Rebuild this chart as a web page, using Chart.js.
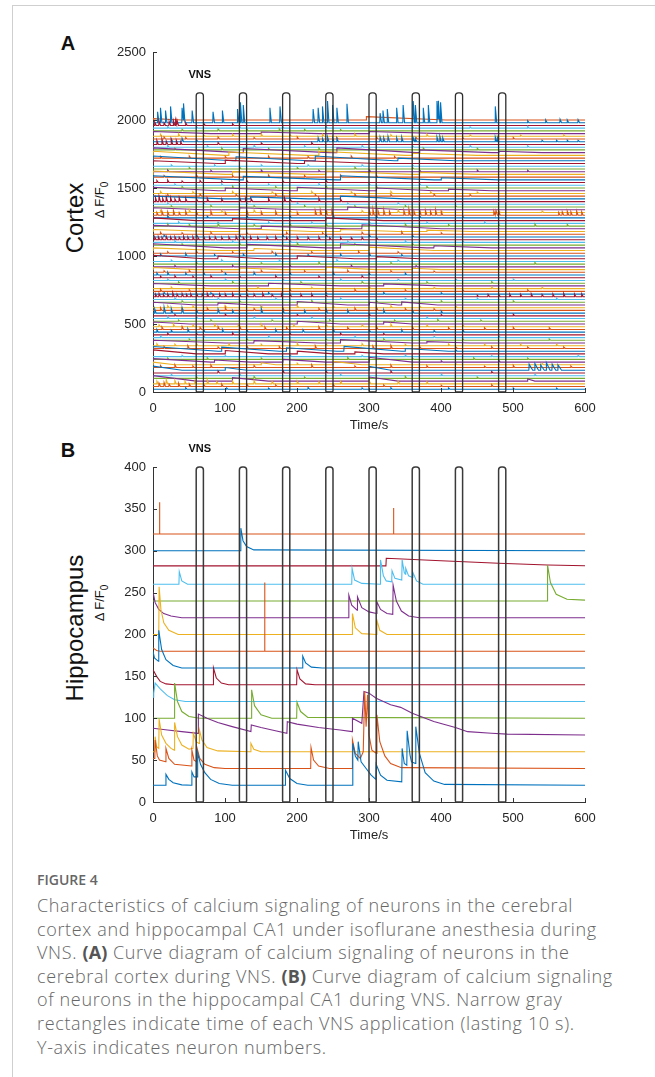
<!DOCTYPE html>
<html>
<head>
<meta charset="utf-8">
<script src="https://cdn.jsdelivr.net/npm/chart.js@4.4.1/dist/chart.umd.min.js"></script>
<style>
  body { margin: 0; background: #fff; width: 655px; height: 1077px; position: relative; overflow: hidden; font-family: "Liberation Sans", Arial, sans-serif; }
  .frame { position: absolute; left: 12px; top: 5px; right: 0; bottom: 0; border-left: 1px solid #cfcfcf; border-top: 1px solid #cfcfcf; }
  .box { position: absolute; left: 0; width: 655px; }
  .panel { position: absolute; font: bold 20px "Liberation Sans", Arial, sans-serif; color: #111; transform: translate(-50%, -50%); }
  .rot { position: absolute; transform: translate(-50%, -50%) rotate(-90deg); white-space: nowrap; color: #111; }
  .big { font-size: 24px; }
  .small { font-size: 13px; }
  .small sub { font-size: 10px; }
  .cap { position: absolute; left: 37px; top: 870px; color: #666; font-family: "Open Sans", sans-serif; }
  .figno { font-size: 14px; font-weight: 600; color: #666; margin-bottom: 5px; }
  .cap p { margin: 0; font-size: 18px; font-weight: 300; letter-spacing: 0.65px; line-height: 23.6px; white-space: nowrap; }
  .cap b { font-weight: 700; color: #555; letter-spacing: 0.2px; }
</style>
</head>
<body>
<div class="frame"></div>

<div class="panel" style="left:68px;top:43px">A</div>
<div class="panel" style="left:68px;top:450px">B</div>
<div class="rot big" style="left:75px;top:218px">Cortex</div>
<div class="rot small" style="left:101px;top:200px">&Delta; F/F<sub>0</sub></div>
<div class="rot big" style="left:75px;top:628px">Hippocampus</div>
<div class="rot small" style="left:101px;top:603px">&Delta; F/F<sub>0</sub></div>

<div class="box" style="top:0;height:440px"><canvas id="cortex"></canvas></div>
<div class="box" style="top:440px;height:420px"><canvas id="hippo"></canvas></div>

<div class="cap">
  <div class="figno">FIGURE 4</div>
  <p>Characteristics of calcium signaling of neurons in the cerebral<br>
  cortex and hippocampal CA1 under isoflurane anesthesia during<br>
  VNS. <b>(A)</b> Curve diagram of calcium signaling of neurons in the<br>
  cerebral cortex during VNS. <b>(B)</b> Curve diagram of calcium signaling<br>
  of neurons in the hippocampal CA1 during VNS. Narrow gray<br>
  rectangles indicate time of each VNS application (lasting 10 s).<br>
  Y-axis indicates neuron numbers.</p>
</div>

<script>
// MATLAB default line colour order
const PALETTE = ['#0072BD', '#D95319', '#EDB120', '#7E2F8E', '#77AC30', '#4DBEEE', '#A2142F'];

// VNS stimulation windows (s)
const vnsStarts = [60, 120, 180, 240, 300, 360, 420, 480];
const vnsDuration = 10;
const vnsLabel = 'VNS';

const timeTicks = [0, 100, 200, 300, 400, 500, 600];
const cortexTicks = [0, 500, 1000, 1500, 2000, 2500];
const hippoTicks = [0, 50, 100, 150, 200, 250, 300, 350, 400];

// Cortex: baseline of each neuron trace (bottom to top)
const cortexBaselines = [
  20, 40, 60, 80, 100, 120, 140, 160, 180, 200,
  220, 240, 260, 280, 300, 320, 340, 360, 380, 400,
  420, 440, 460, 480, 500, 520, 540, 560, 580, 600,
  620, 640, 660, 680, 700, 720, 740, 760, 780, 800,
  820, 840, 860, 880, 900, 920, 940, 960, 980, 1000,
  1020, 1040, 1060, 1080, 1100, 1120, 1140, 1160, 1180, 1200,
  1220, 1240, 1260, 1280, 1300, 1320, 1340, 1360, 1380, 1400,
  1420, 1440, 1460, 1480, 1500, 1520, 1540, 1560, 1580, 1600,
  1620, 1640, 1660, 1680, 1700, 1720, 1740, 1760, 1780, 1800,
  1820, 1840, 1860, 1880, 1900, 1920, 1940, 1960, 1980, 2000
];

// Cortex events per trace, "time:height[:decay]"
const cortexLow = [
  "45:12 102:10 160:8 215:14 290:10 330:12 410:9 500:10 560:8",
  "8:25 15:30 22:18 35:26 50:20 70:15 95:18 130:20 170:12 250:15 320:12 400:10 470:14",
  "5:20 18:30 30:25 44:18 58:22 75:30 88:16 110:20 140:25 165:18 200:20 230:15 260:18 300:22 340:20 380:15",
  "0:40:60 110:25:50 300:30:40 520:15:10",
  "60:12 140:15 210:10 350:14 450:10",
  "25:10 120:12 260:10 400:12 530:10",
  "90:15 180:20 240:12 330:15 470:10",
  "0:30:40 100:20:30 300:28:30 522:45:5 530:50:5 538:40:5 546:55:5 554:45:5 562:40:5",
  "10:15 30:20 55:12 80:18 140:15 220:20 280:12 330:18 380:14 460:10 500:16 580:12",
  "0:20:30 150:15:20 200:12 250:25:40 420:10 540:12",
  "0:25:80 85:15:50 180:20:60 300:35:60 400:10 480:12",
  "20:10 75:12 150:10 270:15 360:10 445:12 520:10",
  "40:10 100:8 190:12 290:10 350:12 470:8 590:10",
  "0:30:60 100:25:60 200:20:50 280:15:40",
  "0:35:90 95:30:80 185:25:70 265:35:80 350:20:60 420:10",
  "15:15 48:20 90:12 130:18 175:14 225:20 305:18 330:22 370:15 420:12 470:14 520:10 570:12",
  "5:15 30:12 60:18 105:14 150:12 200:18 240:14 290:16 350:12 410:14 460:10 510:12 560:10",
  "0:20:100 140:18:90 260:25:100 380:10:60",
  "50:10 130:12 240:10 320:12 430:10 550:10",
  "10:12 70:10 160:12 280:10 390:10 480:12",
  "20:12 60:10 110:15 190:10 260:12 320:10",
  "5:20 25:15 48:25 70:18 96:22 130:15 170:20 208:18 250:22 300:15 345:18 390:12 430:16",
  "12:18 40:22 65:15 90:20 120:25 155:18 185:15 230:20 270:15 310:22 360:18 410:14 460:12 500:16 550:12",
  "8:15 28:20 55:12 85:18 118:15 150:20 195:14 240:18 290:15 330:20 380:12 430:14",
  "0:15:50 200:20:60 320:15:40",
  "35:10 80:12 165:10 245:12 335:10 395:15 455:10",
  "20:15 60:12 140:14 220:12 300:10 380:12",
  "30:10 100:12 200:10 300:12 400:10 500:12",
  "2:30 15:45 25:35 40:40 60:25 90:30 110:20 150:35 180:25 210:20 240:30 270:22 320:25 360:20 400:15",
  "10:20 40:15 75:18 100:22 140:15 180:20 230:14 280:18 310:25 350:15 390:12",
  "20:15 55:12 100:15 150:12 200:18 250:12 330:15 370:12 420:12",
  "0:20:60 90:15:50 200:25:70 300:20:40 345:22:50",
  "40:12 120:10 220:15 310:10 400:12 500:10"
];
const cortexMid = [
  "30:10 90:12 170:10 260:12 350:10 450:12 560:10",
  "3:20 8:25 14:18 20:22 27:30 33:20 40:25 46:18 52:22 60:28 68:20 75:25 83:18 92:22 100:20 110:25 120:18 130:22 140:20 152:25 165:18 178:22 190:20 205:18 220:20 240:15 450:12 465:18 480:15 495:20 510:18 525:22 540:18 555:20 570:25 585:20 595:22",
  "15:12 80:10 160:12 240:10 320:12 400:10",
  "10:15 50:12 130:15 190:12 280:15 350:12 430:10 520:12",
  "25:12 70:10 145:12 220:10 300:15 390:10 470:12 540:10",
  "0:18:80 160:20:100 320:15:80",
  "35:10 110:12 205:10 290:12 380:10 470:12",
  "20:10 100:12 180:10 260:12 340:10 420:12 500:10",
  "10:12 30:15 55:12 80:15 120:12 170:15 230:12 290:15",
  "5:15 20:20 45:15 70:18 100:15 140:20 190:15 250:18 300:12 350:15",
  "15:12 50:15 95:12 150:15 210:12 270:15 330:12 390:10",
  "0:15:60 120:12:60 240:18:70 360:10:40",
  "30:10 110:12 190:10 275:12 365:10",
  "60:12 150:10 230:15 330:12 430:10 530:12",
  "25:10 95:12 175:10 255:12 340:10",
  "0:25:70 90:20:60 200:22:80 310:15:60",
  "10:15 45:18 85:12 125:15 170:18 215:12 260:15 300:20 345:12",
  "20:12 60:15 110:12 165:15 220:12 285:15 340:12",
  "0:20:90 140:15:80 300:25:90",
  "0:30:100 130:25:110 260:30:120 390:15:80",
  "40:10 120:12 200:15 280:10 360:12",
  "30:12 110:10 190:12 270:10 350:12 430:10",
  "2:20 7:22 12:18 18:25 24:20 30:22 36:18 42:25 48:20 55:22 62:18 70:25 78:20 86:22 95:18 105:20 115:25 125:18 135:22 145:18 158:20 170:22 185:18 200:20 215:18 230:20 245:15 260:18 275:15 290:18 310:15",
  "15:15 60:12 120:15 180:12 240:15 300:12 360:10",
  "10:15 40:12 80:15 130:12 185:15 235:12 290:15 345:18 400:12",
  "0:15:80 120:20:100 260:15:80 380:10:60",
  "0:25:120 150:20:120 290:30:110",
  "20:15 50:12 90:18 140:12 190:15 240:18 300:12 350:15 410:12 480:10 530:15 575:12",
  "35:12 90:10 160:12 220:10 300:12 380:10 460:12",
  "0:20:60 110:15:60 240:20:80",
  "20:15 75:12 130:18 190:12 250:15 310:12 370:15 430:10",
  "5:20 12:30 20:25 28:35 36:20 45:30 60:25 80:30 100:20 130:35 150:25 170:30 200:20 225:35 232:40 240:30 248:35 300:40 305:45 312:35 320:40 328:30 348:35 355:45 362:30 370:40 378:35 385:30 392:40 400:25 473:30 476:35 480:25 563:20 568:25 575:30 580:25 588:30 595:25",
  "10:15 50:20 95:15 140:18 190:15 240:20 290:15 340:18 400:12 480:15 540:12"
];
const cortexHigh = [
  "0:15:70 120:15:80 270:20:80",
  "25:10 80:12 140:10 210:12 280:10 350:12 420:10",
  "20:10 70:12 130:10 200:12 270:10 340:12",
  "3:30 8:40 13:25 18:35 24:30 30:20 36:30 45:25 60:20 75:25 95:20 120:30 128:25 136:20 160:25 182:30 190:20 230:25 260:20",
  "0:20:100 135:15:80 260:20:90",
  "20:12 65:15 115:12 170:15 225:12 280:15 330:12 390:15 440:12",
  "10:15 55:12 110:15 165:12 220:15 275:12 330:15 385:12 450:10",
  "0:25:90 100:20:90 200:25:100 310:20:80 410:12:60",
  "40:12 110:15 170:12 240:15 310:12 380:10",
  "30:10 95:12 160:10 230:12 300:10 370:12",
  "5:15 20:18 40:12 65:15 95:12 130:15 180:12 240:15",
  "0:30:120 125:25:130 260:30:130 400:15:80",
  "15:12 60:15 110:12 160:15 210:12 260:15 310:12",
  "0:25:100 110:20:110 240:25:120 370:15:80",
  "20:12 80:10 150:12 230:10 300:12 370:10 450:12 520:10",
  "50:10 120:12 200:10 280:12 360:10",
  "25:10 85:12 150:10 215:12 290:10 360:12",
  "0:20:90 100:25:100 210:20:100",
  "0:35:110 115:30:100 225:35:110 340:20:80",
  "10:12 50:15 100:12 160:15 215:12 275:15 335:12",
  "0:30:100 105:25:110 230:30:120 360:15:90",
  "0:35:120 125:30:120 255:35:110 370:20:100 480:10:60",
  "30:12 95:15 160:12 230:15 300:12 375:15 450:12",
  "20:12 75:10 140:12 210:10 290:12 360:10 440:12 520:10",
  "5:30 12:40 18:25 25:35 32:30 38:20 90:15 150:12 220:15",
  "25:20 40:25 60:15 229:30 235:25 242:35 249:30 255:25 315:35 320:30 326:40 338:30 345:35 361:30 364:25 394:35 398:40 402:30 475:35 478:30 540:12 560:10 575:12 590:10",
  "15:15 45:12 90:15 140:12 200:15 255:12 310:15 365:12 430:10 500:12",
  "10:15 35:18 70:12 110:15 150:18 190:12 235:15 280:18 330:12 380:15 440:12 510:10 570:12",
  "0:15:80 150:12:80 300:15:100",
  "40:12 90:15 130:12 175:15 210:12 260:10",
  "20:12 60:10 120:12 180:10 240:12 300:10 360:12 440:10 520:12",
  "2:25 8:30 15:20 22:30 28:35 31:40 33:30 45:20 70:15 110:12",
  "6:80 10:110 17:90 24:120 40:110 42:120 54:90 83:80 96:90 117:100 121:150 125:130 162:110 176:120 222:100 229:110 235:120 242:160 249:130 255:110 269:140 315:70 319:90 325:100 338:110 347:130 361:160 364:130 375:110 382:130 394:160 396:130 399:150 475:120 520:15 545:20 565:25 575:20 590:22",
  "0:10:40 296:25:110"
];

// Hippocampus: each neuron trace as [time, dF/F0 + offset] points
const hippoTraces = [
  [[0,20],[17.5,20],[18,33],[22,27],[28,23],[40,20.5],[53.5,20],[54,36],[57,30],[61.5,30],[62,59],[66,45],[72,35],[80,27],[92,22],[110,20],[183.5,20],[184,38],[190,28],[200,22],[215,20],[277,20],[277.5,70],[281,55],[284.5,50],[285,72],[289,48],[296,40],[303,32],[309.5,27],[310,45],[316,32],[325,26],[345.5,24],[346,64],[349,46],[352.5,44],[353,85],[357,56],[359,48],[364.5,46],[365,90],[370,58],[378,35],[390,25],[405,21],[600,20]],
  [[0,52],[2.5,52],[3,74],[6,55],[9,50],[17.5,48],[18,64],[22,52],[30,45],[53.5,43],[54,62],[57,50],[60.5,48],[61,65],[65,52],[72,45],[85,41],[100,40],[219,40],[219.5,65],[223,50],[230,43],[245,40],[276.5,40],[277,74],[281,58],[288,52],[292,60],[294,132],[296,90],[298,128],[300,80],[304,62],[310.5,58],[311,104],[315,72],[322,55],[330,46],[345,41],[600,40]],
  [[0,60],[2.5,60],[3,78],[5,66],[8,64],[8.5,99],[12,80],[18,70],[25,64],[29.5,62],[30,95],[34,78],[40,68],[50,63],[55.5,64],[56,82],[60,72],[64,70],[64.5,86],[68,74],[75,65],[90,61],[135.5,60],[136,70],[140,63],[150,60],[600,60]],
  [[0,88],[20,86],[40,84],[62.5,82],[63,105],[75,100],[90,95],[110,90],[136,84],[136.5,92],[150,89],[170,85],[186,82],[186.5,96],[200,93],[230,89],[260,86],[276.5,84],[277,100],[290,94],[293,132],[300,130],[310,124],[330,116],[344,113],[360,106],[390,96],[420,89],[437,84],[470,82],[492,81],[600,80]],
  [[0,100],[29.5,100],[30,142],[34,120],[40,108],[50,102],[65,100],[136.5,100],[137,134],[141,115],[150,104],[165,100],[199.5,100],[200,119],[205,108],[215,101],[600,100]],
  [[0,125],[1,130],[3,142],[10,135],[20,127],[30,122],[45,120],[600,120]],
  [[0,158],[5,150],[10,144],[18,141],[30,140],[83.5,140],[84,160],[88,148],[95,142],[105,140],[199.5,140],[200,158],[204,147],[212,141],[225,140],[600,140]],
  [[0,180],[2,172],[7.5,168],[8,205],[12,182],[18,170],[28,163],[40,160],[207.5,160],[208,174],[212,166],[220,161],[235,160],[600,160]],
  [[0,184],[5,181],[10,180],[154.5,180],[155,262],[155.5,180],[600,180]],
  [[0,200],[8,200],[8.5,257],[11,230],[15,214],[22,205],[35,200],[276.5,200],[277,225],[281,208],[290,201],[310.5,200],[311,217],[315,205],[325,200],[600,200]],
  [[0,251],[3,238],[8,230],[15,225],[25,222],[40,220],[271.5,220],[272,247],[276,235],[283.5,229],[284,245],[290,232],[300,227],[310.5,225],[311,239],[316,230],[325,225],[333,224],[333.5,259],[338,240],[345,228],[355,222],[370,220],[600,220]],
  [[0,240],[547.5,240],[548,283],[552,262],[560,248],[575,242],[600,241]],
  [[0,260],[36,260],[36.5,275],[40,264],[48,260],[276,260],[276.5,279],[280,265],[290,261],[315.5,260],[316,289],[320,270],[324,264],[331.5,263],[332,276],[336,267],[345.5,265],[346,289],[349,274],[350.5,272],[351,279],[355,270],[360.5,268],[361,274],[366,264],[375,260],[600,260]],
  [[0,282],[323.5,282],[324,291],[400,288],[480,285],[548,283],[600,282]],
  [[0,300],[121.5,300],[122,327],[125,312],[130,305],[140,301],[600,300]],
  [[0,320],[8.5,320],[9,358],[9.5,320],[333.5,320],[334,351],[334.5,320],[600,320]]
];

// Turn a "time:height[:decay]" list into line points around a baseline
function buildCortexTrace(base, spec) {
  const pts = [{ x: 0, y: base }];
  let prev = null;
  spec.trim().split(/\s+/).filter(Boolean).forEach(tok => {
    const [t, h, d = 2] = tok.split(':').map(Number);
    let level = base;
    if (prev && t < prev.end) {
      level = prev.peak - (prev.peak - base) * (t - prev.t) / (prev.end - prev.t);
    } else if (prev) {
      pts.push({ x: prev.end, y: base });
    }
    pts.push({ x: t, y: level });
    pts.push({ x: t + 0.4, y: level + h });
    prev = { t: t + 0.4, peak: level + h, end: t + 0.4 + d };
  });
  if (prev) pts.push({ x: prev.end, y: base });
  if (!prev || prev.end < 600) pts.push({ x: 600, y: base });
  return pts;
}

// Rectangles, label and inward MATLAB-style ticks
const overlayPlugin = {
  id: 'overlay',
  afterDatasetsDraw(chart, args, o) {
    const { ctx, chartArea, scales: { x, y } } = chart;
    ctx.save();
    ctx.strokeStyle = o.rectColor;
    ctx.lineWidth = o.rectWidth;
    vnsStarts.forEach(s => {
      const l = x.getPixelForValue(s), r = x.getPixelForValue(s + vnsDuration);
      const t = y.getPixelForValue(o.rectTop), b = y.getPixelForValue(0);
      ctx.beginPath();
      ctx.roundRect(l, t, r - l, b - t, [3, 3, 1, 1]);
      ctx.stroke();
    });
    ctx.fillStyle = '#111';
    ctx.font = 'bold 11px "Liberation Sans", Arial, sans-serif';
    ctx.textAlign = 'center';
    ctx.textBaseline = 'middle';
    ctx.fillText(vnsLabel, x.getPixelForValue(o.labelAt[0]), y.getPixelForValue(o.labelAt[1]));

    ctx.strokeStyle = '#333';
    ctx.lineWidth = 1;
    y.ticks.forEach(tk => {
      const py = Math.round(y.getPixelForValue(tk.value)) + 0.5;
      ctx.beginPath(); ctx.moveTo(chartArea.left, py); ctx.lineTo(chartArea.left + 4, py); ctx.stroke();
    });
    x.ticks.forEach(tk => {
      const px = Math.round(x.getPixelForValue(tk.value)) + 0.5;
      ctx.beginPath(); ctx.moveTo(px, chartArea.bottom); ctx.lineTo(px, chartArea.bottom - 4); ctx.stroke();
    });
    ctx.restore();
  }
};

function makeChart(id, datasets, yMax, yTicks, pad, overlay) {
  const tickFont = { family: '"Liberation Sans", Arial, sans-serif', size: 13 };
  return new Chart(document.getElementById(id), {
    type: 'line',
    data: { datasets },
    options: {
      responsive: true,
      maintainAspectRatio: false,
      animation: false,
      events: [],
      parsing: false,
      normalized: true,
      layout: { padding: pad },
      elements: { point: { radius: 0 }, line: { borderWidth: 1, tension: 0 } },
      plugins: { legend: { display: false }, tooltip: { enabled: false }, overlay },
      scales: {
        x: {
          type: 'linear', min: 0, max: 600,
          afterBuildTicks: s => { s.ticks = timeTicks.map(v => ({ value: v })); },
          afterFit: s => { s.height = 46; },
          grid: { display: false, drawTicks: false },
          border: { display: true, color: '#333', width: 1 },
          ticks: { color: '#262626', font: tickFont, padding: 9, maxRotation: 0, callback: v => String(v) },
          title: { display: true, text: 'Time/s', color: '#262626', font: tickFont, padding: { top: 0, bottom: 5 } }
        },
        y: {
          type: 'linear', min: 0, max: yMax,
          afterBuildTicks: s => { s.ticks = yTicks.map(v => ({ value: v })); },
          afterFit: s => { s.width = 60; },
          grid: { display: false, drawTicks: false },
          border: { display: true, color: '#333', width: 1 },
          ticks: { color: '#262626', font: tickFont, padding: 7, callback: v => String(v) }
        }
      }
    },
    plugins: [overlayPlugin]
  });
}

const cortexSpecs = [...cortexLow, ...cortexMid, ...cortexHigh];
const cortexDatasets = cortexSpecs.map((spec, i) => ({
  data: buildCortexTrace(cortexBaselines[i], spec),
  borderColor: PALETTE[i % PALETTE.length],
  borderWidth: 1.1
}));

const hippoDatasets = hippoTraces.map((tr, i) => ({
  data: tr.map(([t, v]) => ({ x: t, y: v })),
  borderColor: PALETTE[i % PALETTE.length],
  borderWidth: 1.1
}));

makeChart('cortex', cortexDatasets, 2500, cortexTicks,
  { left: 93, right: 70, top: 52, bottom: 2 },
  { rectTop: 2200, labelAt: [65, 2330], rectColor: '#2f2f2f', rectWidth: 1.3 });

makeChart('hippo', hippoDatasets, 400, hippoTicks,
  { left: 93, right: 70, top: 27, bottom: 12 },
  { rectTop: 400, labelAt: [65, 421], rectColor: '#3a3a3a', rectWidth: 1.5 });
</script>
</body>
</html>
